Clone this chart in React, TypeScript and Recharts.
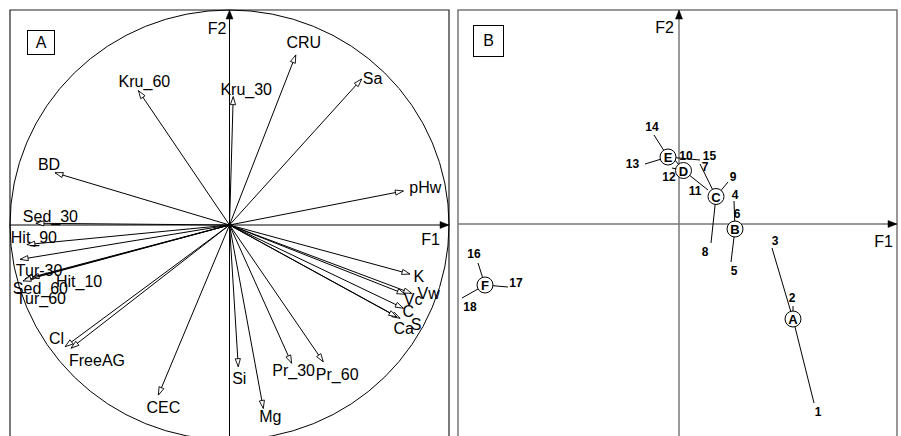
import React from 'react';
import { ScatterChart, Scatter, XAxis, YAxis, ReferenceLine, ReferenceArea } from 'recharts';

const FONT = '"Liberation Sans", Arial, Helvetica, sans-serif';

// ---------- Panel A: correlation circle ----------
const variables = ['CRU', 'Sa', 'Kru_60', 'Kru_30', 'BD', 'pHw', 'Sed_30', 'Hit_90', 'Tur-30', 'Hit_10', 'Sed_60', 'Tur_60', 'Cl', 'FreeAG', 'CEC', 'Si', 'Mg', 'Pr_30', 'Pr_60', 'K', 'Vw', 'Vc', 'C', 'S', 'Ca'];
const varF1 = [0.302, 0.602, -0.415, 0.017, -0.795, 0.792, -0.882, -0.923, -0.954, -0.904, -0.932, -0.941, -0.749, -0.722, -0.324, 0.040, 0.154, 0.283, 0.427, 0.822, 0.830, 0.800, 0.792, 0.777, 0.762];
const varF2 = [0.791, 0.679, 0.625, 0.597, 0.243, 0.158, 0.008, -0.091, -0.160, -0.247, -0.251, -0.260, -0.566, -0.573, -0.791, -0.659, -0.853, -0.643, -0.636, -0.228, -0.318, -0.322, -0.387, -0.434, -0.427];

// ---------- Panel B: sample scores and group centroids ----------
const samples = ['1', '2', '3', '4', '5', '6', '7', '8', '9', '10', '11', '12', '13', '14', '15', '16', '17', '18'];
const sampleF1 = [1.35, 1.14, 0.93, 0.55, 0.52, 0.58, 0.21, 0.32, 0.49, -0.09, 0.29, -0.07, -0.34, -0.25, 0.21, -2.01, -1.71, -2.17];
const sampleF2 = [-1.79, -0.82, -0.24, 0.23, -0.38, 0.00, 0.60, -0.19, 0.42, 0.70, 0.34, 0.56, 0.60, 0.89, 0.64, -0.39, -0.63, -0.74];
const sampleGroup = ['A', 'A', 'A', 'B', 'B', 'B', 'C', 'C', 'C', 'D', 'D', 'D', 'E', 'E', 'E', 'F', 'F', 'F'];
const groups = ['A', 'B', 'C', 'D', 'E', 'F'];
const groupF1 = [1.14, 0.56, 0.37, 0.045, -0.11, -1.94];
const groupF2 = [-0.95, -0.05, 0.275, 0.535, 0.67, -0.61];

// ---------- layout (label offsets in px) ----------
const varLabelOffset: Record<string, [number, number]> = {
  CRU: [8, -12.5], Sa: [11, -1], Kru_60: [6, -9], Kru_30: [13, -7], BD: [-6, -8], pHw: [22, -3.5],
  Sed_30: [14.5, -7], Hit_90: [7, -7], 'Tur-30': [19, 11], Hit_10: [48, 3.5], Sed_60: [15.5, 10], Tur_60: [18, 18],
  Cl: [-8.5, -8], FreeAG: [26, 12], CEC: [5, 12], Si: [1, 12], Mg: [7, 8], Pr_30: [2, 7], Pr_60: [14, 13],
  K: [9, 2], Vw: [17, 0], Vc: [8, 5], C: [5, 3], S: [16, 6], Ca: [7, 12],
};
const sampleLabelOffset: Record<string, [number, number]> = {
  '1': [4, 9], '2': [-1, -8], '3': [3, -7], '4': [1, -6], '5': [3, 9], '6': [0, -10], '7': [5, 3], '8': [-6, 9], '9': [5, -5],
  '10': [16, 2], '11': [-13, 1], '12': [-3, 9], '13': [-12.5, -0.5], '14': [-2, -8], '15': [9.5, -4.5], '16': [-4, -9], '17': [8, -4], '18': [8, 9],
};

const varData = variables.map((name, i) => ({ name, x: varF1[i], y: varF2[i] }));
const sampleData = samples.map((name, i) => ({ name, x: sampleF1[i], y: sampleF2[i], group: sampleGroup[i] }));
const groupData = groups.map((name, i) => ({ name, x: groupF1[i], y: groupF2[i] }));

function headPoints(x1: number, y1: number, x2: number, y2: number, len: number, half: number) {
  const dx = x2 - x1, dy = y2 - y1;
  const L = Math.hypot(dx, dy) || 1;
  const ux = dx / L, uy = dy / L;
  const bx = x2 - ux * len, by = y2 - uy * len;
  return `${x2},${y2} ${bx - uy * half},${by + ux * half} ${bx + uy * half},${by - ux * half}`;
}

const VarArrow = (p: any) => {
  const { x1, y1, x2, y2 } = p;
  return (
    <g>
      <line x1={x1} y1={y1} x2={x2} y2={y2} stroke="#000" strokeWidth={1} />
      <polygon points={headPoints(x1, y1, x2, y2, 8, 2.6)} fill="#fff" stroke="#000" strokeWidth={0.9} />
    </g>
  );
};

const makeAxisShape = (label: string, color: string, width: number, ldx: number, ldy: number) => (p: any) => {
  const { x1, y1, x2, y2 } = p;
  return (
    <g>
      <line x1={x1} y1={y1} x2={x2} y2={y2} stroke={color} strokeWidth={width} />
      <polygon points={headPoints(x1, y1, x2, y2, 9, 3.5)} fill="#000" stroke="#000" strokeWidth={0.5} />
      <text x={x2 + ldx} y={y2 + ldy} textAnchor="end" dominantBaseline="central" fontSize={16} fontFamily={FONT} fill="#000">{label}</text>
    </g>
  );
};

const CircleShape = (p: any) => {
  const { x1, y1, x2, y2 } = p;
  return <ellipse cx={(x1 + x2) / 2} cy={(y1 + y2) / 2} rx={Math.abs(x2 - x1) / 2} ry={Math.abs(y2 - y1) / 2} fill="none" stroke="#000" strokeWidth={1} />;
};

const PlainLine = (p: any) => <line x1={p.x1} y1={p.y1} x2={p.x2} y2={p.y2} stroke="#000" strokeWidth={1} />;

const VarLabel = (p: any) => {
  const off = varLabelOffset[p.payload.name] || [0, 0];
  return (
    <text x={p.cx + off[0]} y={p.cy + off[1]} textAnchor="middle" dominantBaseline="central" fontSize={16} fontFamily={FONT} fill="#000">
      {p.payload.name}
    </text>
  );
};

const SampleLabel = (p: any) => {
  const off = sampleLabelOffset[p.payload.name] || [0, 0];
  return (
    <text x={p.cx + off[0]} y={p.cy + off[1]} textAnchor="middle" dominantBaseline="central" fontSize={12} fontWeight="bold" fontFamily={FONT} fill="#000">
      {p.payload.name}
    </text>
  );
};

const CentroidShape = (p: any) => (
  <g>
    <circle cx={p.cx} cy={p.cy} r={8} fill="#fff" stroke="#000" strokeWidth={1} />
    <text x={p.cx} y={p.cy + 0.5} textAnchor="middle" dominantBaseline="central" fontSize={13} fontWeight="bold" fontFamily={FONT} fill="#000">
      {p.payload.name}
    </text>
  </g>
);

const boxStyle = (left: number, top: number, w: number, h: number): React.CSSProperties => ({
  position: 'absolute', left, top, width: w, height: h, boxSizing: 'border-box', border: '1px solid #000',
  display: 'flex', alignItems: 'center', justifyContent: 'center', fontFamily: FONT, fontSize: 16, background: '#fff', lineHeight: 1,
});

const AX = [-1, 1];
const AY = [-1, 1];
const BX = [-2.21, 2.18];
const BY = [-2.16, 2.14];

export default function App() {
  return (
    <div style={{ position: 'relative', width: 901, height: 436, overflow: 'hidden', background: '#fff' }}>
      <style>{'html,body{margin:0;padding:0;overflow:hidden;background:#fff}'}</style>
      <div style={{ position: 'absolute', left: 0, top: 0 }}>
        <ScatterChart width={452} height={440} margin={{ top: 10, right: 3, bottom: 0, left: 10 }}>
          <XAxis type="number" dataKey="x" domain={AX} hide allowDataOverflow />
          <YAxis type="number" dataKey="y" domain={AY} hide allowDataOverflow />
          <ReferenceArea x1={AX[0]} x2={AX[1]} y1={AY[0]} y2={AY[1]} fill="none" fillOpacity={0} stroke="#222" strokeWidth={1.2} ifOverflow="visible" />
          <ReferenceLine segment={[{ x: -1, y: -1 }, { x: 1, y: 1 }]} ifOverflow="visible" shape={CircleShape} />
          <ReferenceLine segment={[{ x: AX[0], y: 0 }, { x: AX[1], y: 0 }]} ifOverflow="visible" shape={makeAxisShape('F1', '#000', 1, -9, 14)} />
          <ReferenceLine segment={[{ x: 0, y: AY[0] }, { x: 0, y: AY[1] }]} ifOverflow="visible" shape={makeAxisShape('F2', '#000', 1, -3, 18)} />
          {varData.map((v) => (
            <ReferenceLine key={v.name} segment={[{ x: 0, y: 0 }, { x: v.x, y: v.y }]} ifOverflow="visible" shape={VarArrow} />
          ))}
          <Scatter data={varData} shape={VarLabel} isAnimationActive={false} />
        </ScatterChart>
      </div>
      <div style={{ position: 'absolute', left: 452, top: 0 }}>
        <ScatterChart width={449} height={440} margin={{ top: 10, right: 4, bottom: 0, left: 6 }}>
          <XAxis type="number" dataKey="x" domain={BX} hide allowDataOverflow />
          <YAxis type="number" dataKey="y" domain={BY} hide allowDataOverflow />
          <ReferenceArea x1={BX[0]} x2={BX[1]} y1={BY[0]} y2={BY[1]} fill="none" fillOpacity={0} stroke="#777" strokeWidth={1.5} ifOverflow="visible" />
          <ReferenceLine segment={[{ x: BX[0], y: 0 }, { x: BX[1], y: 0 }]} ifOverflow="visible" shape={makeAxisShape('F1', '#777', 1.5, -4, 17)} />
          <ReferenceLine segment={[{ x: 0, y: BY[0] }, { x: 0, y: BY[1] }]} ifOverflow="visible" shape={makeAxisShape('F2', '#777', 1.5, -5, 17.5)} />
          {sampleData.map((s) => {
            const g = groupData.find((d) => d.name === s.group)!;
            return <ReferenceLine key={s.name} segment={[{ x: g.x, y: g.y }, { x: s.x, y: s.y }]} ifOverflow="visible" shape={PlainLine} />;
          })}
          <Scatter data={sampleData} shape={SampleLabel} isAnimationActive={false} />
          <Scatter data={groupData} shape={CentroidShape} isAnimationActive={false} />
        </ScatterChart>
      </div>
      <div style={boxStyle(27, 30, 28, 25)}>A</div>
      <div style={boxStyle(473, 25, 31, 32)}>B</div>
    </div>
  );
}
